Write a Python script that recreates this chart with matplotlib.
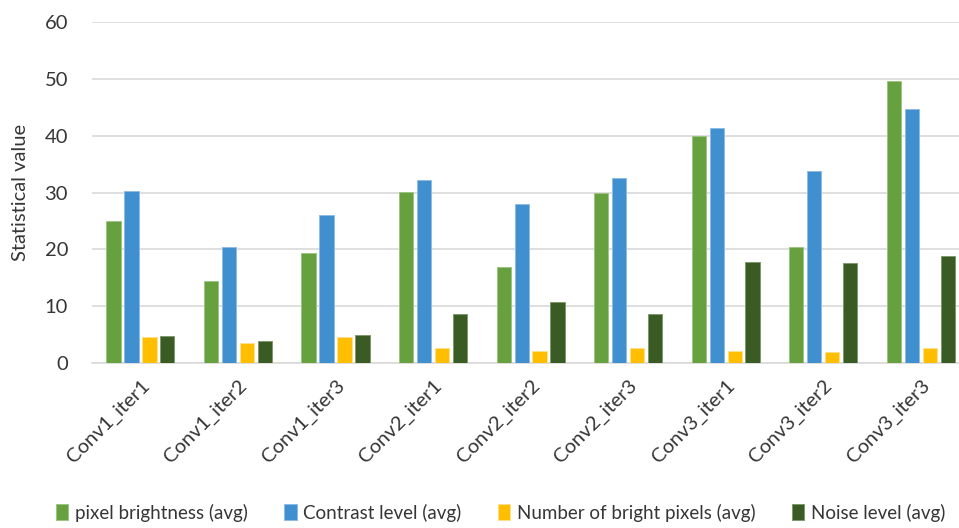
import matplotlib
matplotlib.use("Agg")
import matplotlib.pyplot as plt
import numpy as np

plt.rcParams['font.family'] = ['Lato', 'DejaVu Sans']

categories = ["Conv1_iter1", "Conv1_iter2", "Conv1_iter3",
              "Conv2_iter1", "Conv2_iter2", "Conv2_iter3",
              "Conv3_iter1", "Conv3_iter2", "Conv3_iter3"]
pixel_brightness = [25.0, 14.4, 19.4, 30.1, 16.9, 29.9, 39.9, 20.5, 49.6]
contrast_level = [30.3, 20.5, 26.0, 32.2, 28.0, 32.5, 41.4, 33.8, 44.7]
bright_pixels = [4.5, 3.6, 4.6, 2.7, 2.2, 2.7, 2.2, 2.0, 2.7]
noise_level = [4.7, 3.8, 4.9, 8.7, 10.7, 8.7, 17.8, 17.6, 18.9]

series_names = ["pixel brightness (avg)", "Contrast level (avg)",
                "Number of bright pixels (avg)", "Noise level (avg)"]
series_values = [pixel_brightness, contrast_level, bright_pixels, noise_level]
colors = ["#67A03F", "#4090CF", "#FFBF00", "#3B5B24"]
edges = ["#9CC483", "#8DBCE6", "#FFE08A", "#7F9A6E"]

text_color = "#363636"
grid_color = "#D9D9D9"

fig = plt.figure(figsize=(9.59, 5.28), dpi=100)
ax = fig.add_axes([0.0956, 0.3125, 0.9154, 0.6455])

x = np.arange(len(categories))
bar_w = 0.146
step = 0.184
offsets = (np.arange(4) - 1.5) * step

for vals, name, c, e, off in zip(series_values, series_names, colors, edges, offsets):
    ax.bar(x + off, vals, width=bar_w, color=c, edgecolor=e, linewidth=0.7,
           label=name, zorder=3)

ax.set_xlim(-0.5, len(categories) - 0.5)
ax.set_ylim(0, 60)
ax.set_yticks(np.arange(0, 61, 10))
ax.yaxis.grid(True, color=grid_color, linewidth=1.2, zorder=0)
ax.set_axisbelow(True)
for side in ["top", "right", "left"]:
    ax.spines[side].set_visible(False)
ax.spines["bottom"].set_color(grid_color)
ax.spines["bottom"].set_linewidth(1.2)
ax.tick_params(axis="both", length=0, colors=text_color, labelsize=14.5)
ax.tick_params(axis="y", pad=17)

ax.set_xticks(x)
ax.set_xticklabels(categories, rotation=45, ha="right", rotation_mode="anchor",
                   fontsize=14.5, color=text_color)
ax.tick_params(axis="x", pad=10)

ax.set_ylabel("Statistical value", fontsize=14.5, color=text_color, labelpad=11)

leg = fig.legend(loc="lower center", bbox_to_anchor=(0.522, -0.02), ncol=4,
                 frameon=False, fontsize=13.5, handlelength=0.65, handleheight=0.95,
                 handletextpad=0.35, columnspacing=1.95)
for t in leg.get_texts():
    t.set_color(text_color)

fig.savefig("out.png", dpi=100)
